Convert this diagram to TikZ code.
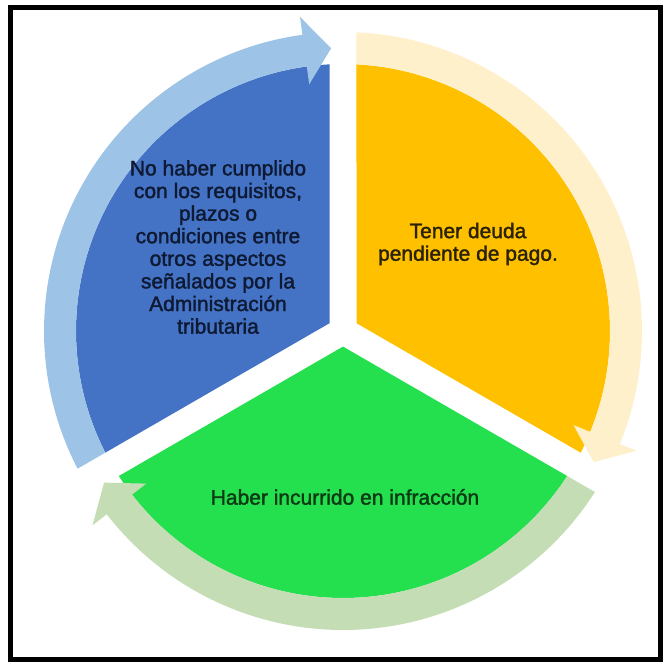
\documentclass[tikz,border=0pt]{standalone}
\usepackage{fontspec}
\setmainfont{Liberation Sans}
\newfontfamily\lblfont[FakeBold=1.6]{Liberation Sans}
\usetikzlibrary{calc}
\definecolor{segblue}{HTML}{4472C4}
\definecolor{bandblue}{HTML}{9DC3E6}
\definecolor{segorange}{HTML}{FFC000}
\definecolor{bandorange}{HTML}{FFF0CC}
\definecolor{seggreen}{HTML}{24E04F}
\definecolor{bandgreen}{HTML}{C5DDB5}
\definecolor{txtblue}{HTML}{0E1A33}
\definecolor{txtorange}{HTML}{2B2205}
\definecolor{txtgreen}{HTML}{0C3A14}
\newcommand{\cycseg}[3]{%
  \pgfmathsetmacro\cyM{(#2+#3)/2}%
  \pgfmathsetmacro\cyL{#2+asin(13.5/267)}%
  \pgfmathsetmacro\cyH{#3-asin(13.5/267)}%
  \fill[#1] ($(C)+(\cyM:15.59)$) -- ($(C)+(\cyL:267)$)
    arc[start angle=\cyL, end angle=\cyH, radius=267] -- cycle;}
\newcommand{\cycarrow}[3]{%
  \pgfmathsetmacro\cyAo{#2-asin(13.5/299)}%
  \pgfmathsetmacro\cyAi{#2-asin(13.5/267)}%
  \pgfmathsetmacro\cyAb{#3+7.8}%
  \pgfmathsetmacro\cyAt{#3+2.4}%
  \fill[#1] ($(C)+(\cyAo:299)$)
    arc[start angle=\cyAo, end angle=\cyAb, radius=299]
    -- ($(C)+(\cyAb:317)$) -- ($(C)+(\cyAt:283)$) -- ($(C)+(\cyAb:249)$)
    -- ($(C)+(\cyAb:267)$)
    arc[start angle=\cyAb, end angle=\cyAi, radius=267] -- cycle;}
\begin{document}
\begin{tikzpicture}[x=1pt,y=1pt,
  lbl/.style={font=\lblfont\fontsize{21}{22.6}\selectfont, align=center, inner sep=0pt}]
\useasboundingbox (0,0) rectangle (667,-662);
\fill[white] (0,0) rectangle (667,-662);
\coordinate (C) at (343,-331);
% segments
\cycseg{segblue}{90}{210}
\cycseg{segorange}{-30}{90}
\cycseg{seggreen}{210}{330}
% circular arrows
\cycarrow{bandblue}{210}{90}
\cycarrow{bandorange}{90}{-30}
\cycarrow{bandgreen}{330}{210}
% texts
\node[lbl, text=txtblue] (tblue) at (218,-247)
  {No haber cumplido\\con los requisitos,\\plazos o\\condiciones entre\\otros aspectos\\señalados por la\\Administración\\tributaria};
\node[lbl, text=txtorange] (torange) at (468,-244) {Tener deuda\\pendiente de pago.};
\node[lbl, text=txtgreen] (tgreen) at (345,-497) {Haber incurrido en infracción};
% frame
\draw[line width=4.5pt] (10.5,-7.5) rectangle (660.5,-659.5);
\end{tikzpicture}
\end{document}
